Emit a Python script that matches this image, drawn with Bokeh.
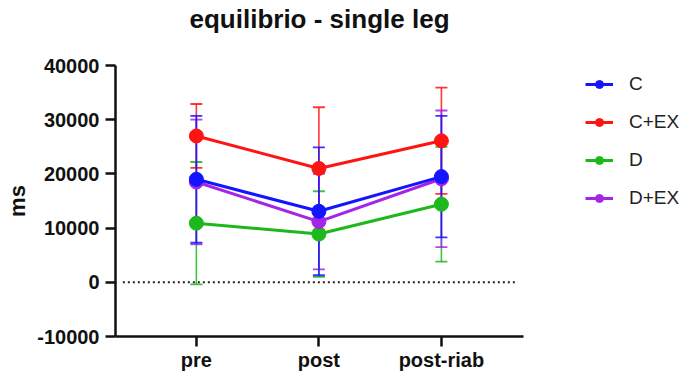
from bokeh.plotting import figure
from bokeh.models import (ColumnDataSource, Whisker, TeeHead, FixedTicker, Legend,
                          LegendItem, Range1d, Title)
from bokeh.embed import file_html
from bokeh.resources import INLINE

# ---- data ----
timepoints = ["pre", "post", "post-riab"]
groups = ["C", "C+EX", "D", "D+EX"]
C_mean = [19000, 13100, 19500]
C_sd = [11700, 11800, 11200]
CEX_mean = [27000, 21000, 26100]
CEX_sd = [5900, 11300, 9800]
D_mean = [10900, 8900, 14400]
D_sd = [11300, 7900, 10600]
DEX_mean = [18500, 11200, 19100]
DEX_sd = [11500, 8800, 12600]
y_ticks = [-10000, 0, 10000, 20000, 30000, 40000]
title_text = "equilibrio - single leg"

colors = {"C": "#1414ff", "C+EX": "#ff1414", "D": "#1cb81c", "D+EX": "#a424e8"}
series = {"C": (C_mean, C_sd), "C+EX": (CEX_mean, CEX_sd),
          "D": (D_mean, D_sd), "D+EX": (DEX_mean, DEX_sd)}

FONT = "Liberation Sans"
x = list(range(len(timepoints)))

p = figure(frame_width=408, frame_height=271, output_backend="svg", toolbar_location=None,
           x_range=Range1d(-0.66, 2.67), y_range=Range1d(-10000, 40000),
           min_border_left=115, min_border_right=167, min_border_top=65,
           min_border_bottom=40, title=title_text)
p.outline_line_color = None
p.grid.visible = False
p.background_fill_color = "white"

p.title.align = "center"
p.title.text_font = FONT
p.title.text_font_size = "26px"
p.title.text_font_style = "bold"
p.title.text_color = "#111111"
p.title.standoff = 0

# empty spacer title between the main title and the frame
spacer_title = Title(text=" ", text_font_size="10px", standoff=19)
p.add_layout(spacer_title, "above")

# axes
for ax in (p.xaxis, p.yaxis):
    ax.axis_line_width = 2.5
    ax.axis_line_color = "#111111"
    ax.major_tick_line_width = 2.5
    ax.major_tick_line_color = "#111111"
    ax.major_tick_in = 0
    ax.major_tick_out = 10
    ax.minor_tick_line_color = None
    ax.major_label_text_font = FONT
    ax.major_label_text_font_style = "bold"
    ax.major_label_text_color = "#111111"

p.xaxis.ticker = FixedTicker(ticks=x)
p.xaxis.major_label_overrides = {i: t for i, t in zip(x, timepoints)}
p.xaxis.major_label_text_font_size = "20px"
p.xaxis.major_label_standoff = 2

p.yaxis.ticker = FixedTicker(ticks=y_ticks)
p.yaxis.major_label_overrides = {v: str(v) for v in y_ticks}
p.yaxis.major_label_text_font_size = "20px"
p.yaxis.major_label_standoff = 6
p.yaxis.axis_label = "ms"
p.yaxis.axis_label_text_font = FONT
p.yaxis.axis_label_text_font_size = "22px"
p.yaxis.axis_label_text_font_style = "bold"
p.yaxis.axis_label_text_color = "#111111"
p.yaxis.axis_label_standoff = 4

# zero reference line
p.segment(x0=[p.x_range.start + 0.06], x1=[p.x_range.end - 0.05], y0=[0], y1=[0],
          line_color="#222222", line_width=2, line_dash="2 3")

# error bars
for g in ["D", "C+EX", "D+EX", "C"]:
    m, s = series[g]
    src = ColumnDataSource(dict(x=x, upper=[a + b for a, b in zip(m, s)],
                                lower=[a - b for a, b in zip(m, s)]))
    w = Whisker(source=src, base="x", upper="upper", lower="lower", dimension="height",
                line_color=colors[g], line_width=1.6, line_alpha=0.85,
                upper_head=TeeHead(size=12, line_color=colors[g], line_width=1.8, line_alpha=0.85),
                lower_head=TeeHead(size=12, line_color=colors[g], line_width=1.8, line_alpha=0.85))
    p.add_layout(w)

items = {}
for g in ["D", "D+EX", "C+EX", "C"]:
    m, s = series[g]
    src = ColumnDataSource(dict(x=x, y=m))
    lr = p.line("x", "y", source=src, line_color=colors[g], line_width=3)
    sr = p.scatter("x", "y", source=src, size=14, fill_color=colors[g],
                   line_color=colors[g])
    items[g] = LegendItem(label=g, renderers=[lr, sr])

legend = Legend(items=[items[g] for g in groups], location=(62, 127),
                padding=0, spacing=16, glyph_width=28, glyph_height=20,
                label_height=20, label_standoff=16, border_line_color=None,
                background_fill_alpha=0, label_text_font=FONT,
                label_text_font_size="19px", label_text_color="#222222", margin=0)
p.add_layout(legend, "right")

open("out.html", "w").write(file_html(p, INLINE))
